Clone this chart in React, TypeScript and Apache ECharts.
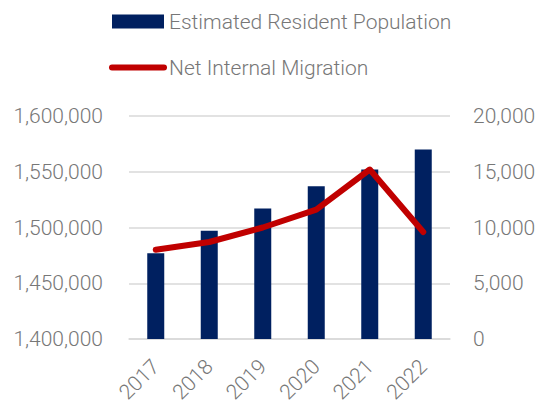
import React, { useEffect, useRef } from "react";
import * as echarts from "echarts";

const years = ["2017", "2018", "2019", "2020", "2021", "2022"];
const population = [1477000, 1497000, 1517000, 1537000, 1552000, 1570000];
const migration = [8000, 8700, 10000, 11600, 15200, 9600];

const fmt = (v: number) => v.toLocaleString("en-US");
const textColor = "#777777";
const font = "Roboto";
const fs = 21;

export default function App() {
  const ref = useRef<HTMLDivElement>(null);
  useEffect(() => {
    if (!ref.current) return;
    const chart = echarts.init(ref.current, undefined, { renderer: "svg" });
    chart.setOption({
      animation: false,
      backgroundColor: "#ffffff",
      textStyle: { fontFamily: font },
      legend: {
        orient: "vertical",
        left: 104,
        top: 6,
        itemWidth: 52,
        itemHeight: 14,
        itemGap: 25,
        textStyle: { color: textColor, fontSize: fs, fontFamily: font, fontWeight: 300 },
        data: [
          { name: "Estimated Resident Population", icon: "rect" },
          {
            name: "Net Internal Migration",
            itemStyle: { opacity: 0 },
            lineStyle: { color: "#C00000", width: 6, cap: "round" },
          },
        ],
      },
      grid: {
        left: 129,
        right: 93,
        top: 116,
        bottom: 66,
        containLabel: false,
        outerBoundsMode: "none",
      },
      xAxis: {
        type: "category",
        data: years,
        axisLine: { show: true, lineStyle: { color: "#d9d9d9", width: 1.5 } },
        axisTick: { show: false },
        axisLabel: {
          rotate: 45,
          color: textColor,
          fontSize: fs,
          fontFamily: font,
          fontWeight: 300,
          margin: 24,
        },
      },
      yAxis: [
        {
          type: "value",
          min: 1400000,
          max: 1600000,
          interval: 50000,
          axisLine: { show: false },
          axisTick: { show: false },
          splitLine: { lineStyle: { color: "#d9d9d9", width: 1.5 } },
          axisLabel: { color: textColor, fontSize: fs, fontFamily: font, fontWeight: 300, margin: 26, formatter: fmt },
        },
        {
          type: "value",
          min: 0,
          max: 20000,
          interval: 5000,
          axisLine: { show: false },
          axisTick: { show: false },
          splitLine: { show: false },
          axisLabel: { color: textColor, fontSize: fs, fontFamily: font, fontWeight: 300, margin: 23, formatter: fmt },
        },
      ],
      series: [
        {
          name: "Estimated Resident Population",
          type: "bar",
          data: population,
          yAxisIndex: 0,
          barWidth: 17,
          itemStyle: { color: "#002060" },
        },
        {
          name: "Net Internal Migration",
          type: "line",
          data: migration,
          yAxisIndex: 1,
          symbol: "none",
          lineStyle: { color: "#C00000", width: 6, cap: "round", join: "round" },
          itemStyle: { color: "#C00000" },
        },
      ],
    });
    return () => chart.dispose();
  }, []);
  return <div ref={ref} style={{ width: 543, height: 405, position: "absolute", left: 0, top: 0 }} />;
}
